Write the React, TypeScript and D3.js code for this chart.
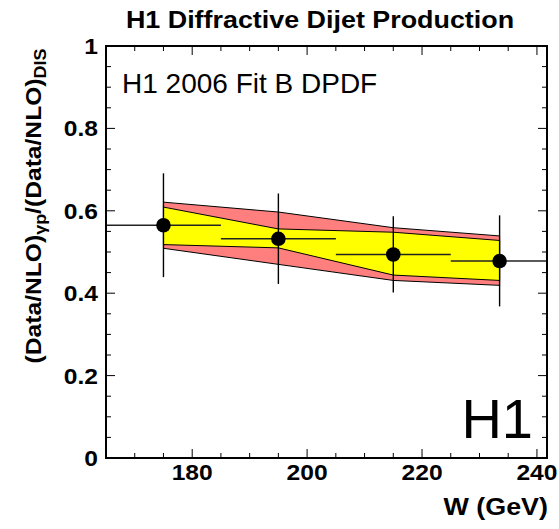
import * as d3 from "d3"

// measured bins (W in GeV) and ratio values
const wCenters = [175, 195, 215, 233.5]
const binLow = [165, 185, 205, 225]
const binHigh = [185, 205, 225, 241.75]
const ratio = [0.565, 0.532, 0.494, 0.478]
const errHigh = [0.691, 0.642, 0.587, 0.589]
const errLow = [0.439, 0.4225, 0.402, 0.368]

// theory uncertainty bands
const redUpper = [0.621, 0.597, 0.559, 0.539]
const redLower = [0.509, 0.47, 0.431, 0.419]
const yellowUpper = [0.609, 0.556, 0.548, 0.528]
const yellowLower = [0.518, 0.51, 0.444, 0.431]

const xMajor = [180, 200, 220, 240]
const yMajor = [0, 0.2, 0.4, 0.6, 0.8, 1]

const W = 559
const H = 529
const margin = { top: 46, right: 12, bottom: 71, left: 106 }
const font = "Liberation Sans, Arial, Helvetica, sans-serif"
// the bold font of the original is a bit wider than Liberation Sans Bold
const k = 1.12

function Bold({ x, y, size, anchor = "start", rotate = 0, children }: any) {
  return (
    <text
      transform={`translate(${x},${y}) rotate(${rotate}) scale(${k},1)`}
      textAnchor={anchor}
      fontFamily={font}
      fontWeight="bold"
      fontSize={size}
    >
      {children}
    </text>
  )
}

export default function App() {
  const x = d3.scaleLinear().domain([165, 241.75]).range([margin.left, W - margin.right])
  const y = d3.scaleLinear().domain([0, 1]).range([H - margin.bottom, margin.top])
  const [x0, x1] = x.range()
  const [y0, y1] = y.range()

  const xMinor = d3.range(165, 242, 5).filter((v) => v % 20 !== 0)
  const yMinor = d3.range(0, 1.0001, 0.05).filter((v) => Math.abs(v * 5 - Math.round(v * 5)) > 1e-6)

  const band = (upper: number[], lower: number[]) => {
    const pts: [number, number][] = [
      ...wCenters.map((w, i) => [x(w), y(upper[i])] as [number, number]),
      ...wCenters.map((w, i) => [x(w), y(lower[i])] as [number, number]).reverse(),
    ]
    return d3.line()(pts) + "Z"
  }

  return (
    <svg width={W} height={H} style={{ position: "absolute", left: 0, top: 0, background: "#fff" }}>
      <Bold x={320} y={28} size={24} anchor="middle">
        H1 Diffractive Dijet Production
      </Bold>

      {/* bands */}
      <path d={band(redUpper, redLower)} fill="#ff7f7f" stroke="#000" strokeWidth={1} />
      <path d={band(yellowUpper, yellowLower)} fill="#ffff00" stroke="#000" strokeWidth={1} />

      {/* data with errors */}
      {wCenters.map((w, i) => (
        <g key={i}>
          <line x1={x(binLow[i])} x2={x(binHigh[i])} y1={y(ratio[i])} y2={y(ratio[i])} stroke="#222" strokeWidth={1.4} />
          <line x1={x(w)} x2={x(w)} y1={y(errHigh[i])} y2={y(errLow[i])} stroke="#000" strokeWidth={1.4} />
          <circle cx={x(w)} cy={y(ratio[i])} r={7.3} fill="#000" />
        </g>
      ))}

      {/* frame */}
      <rect x={x0} y={y1} width={x1 - x0} height={y0 - y1} fill="none" stroke="#000" strokeWidth={2} />

      {/* x ticks */}
      {xMajor.map((v) => (
        <g key={"xm" + v}>
          <line x1={x(v)} x2={x(v)} y1={y0} y2={y0 - 9} stroke="#000" strokeWidth={1} />
          <line x1={x(v)} x2={x(v)} y1={y1} y2={y1 + 9} stroke="#000" strokeWidth={1} />
          <Bold x={x(v)} y={480} size={22} anchor="middle">
            {v}
          </Bold>
        </g>
      ))}
      {xMinor.map((v) => (
        <g key={"xn" + v}>
          <line x1={x(v)} x2={x(v)} y1={y0} y2={y0 - 5} stroke="#000" strokeWidth={1} />
          <line x1={x(v)} x2={x(v)} y1={y1} y2={y1 + 5} stroke="#000" strokeWidth={1} />
        </g>
      ))}

      {/* y ticks */}
      {yMajor.map((v) => (
        <g key={"ym" + v}>
          <line x1={x0} x2={x0 + 9} y1={y(v)} y2={y(v)} stroke="#000" strokeWidth={1} />
          <line x1={x1} x2={x1 - 9} y1={y(v)} y2={y(v)} stroke="#000" strokeWidth={1} />
          <Bold x={98} y={y(v) + 8} size={22} anchor="end">
            {v === 0 || v === 1 ? String(v) : v.toFixed(1)}
          </Bold>
        </g>
      ))}
      {yMinor.map((v) => (
        <g key={"yn" + v}>
          <line x1={x0} x2={x0 + 5} y1={y(v)} y2={y(v)} stroke="#000" strokeWidth={1} />
          <line x1={x1} x2={x1 - 5} y1={y(v)} y2={y(v)} stroke="#000" strokeWidth={1} />
        </g>
      ))}

      {/* axis titles */}
      <Bold x={548} y={515} size={24} anchor="end">
        W (GeV)
      </Bold>
      <Bold x={41} y={206} size={22} anchor="middle" rotate={-90}>
        (Data/NLO)
        <tspan fontSize={16} dy={5}>γp</tspan>
        <tspan dy={-5}>/(Data/NLO)</tspan>
        <tspan fontSize={16} dy={5}>DIS</tspan>
      </Bold>

      {/* labels */}
      <text x={122} y={93} fontFamily={font} fontSize={28}>
        H1 2006 Fit B DPDF
      </text>
      <text x={533} y={438} textAnchor="end" fontFamily={font} fontSize={56}>
        H1
      </text>
    </svg>
  )
}
